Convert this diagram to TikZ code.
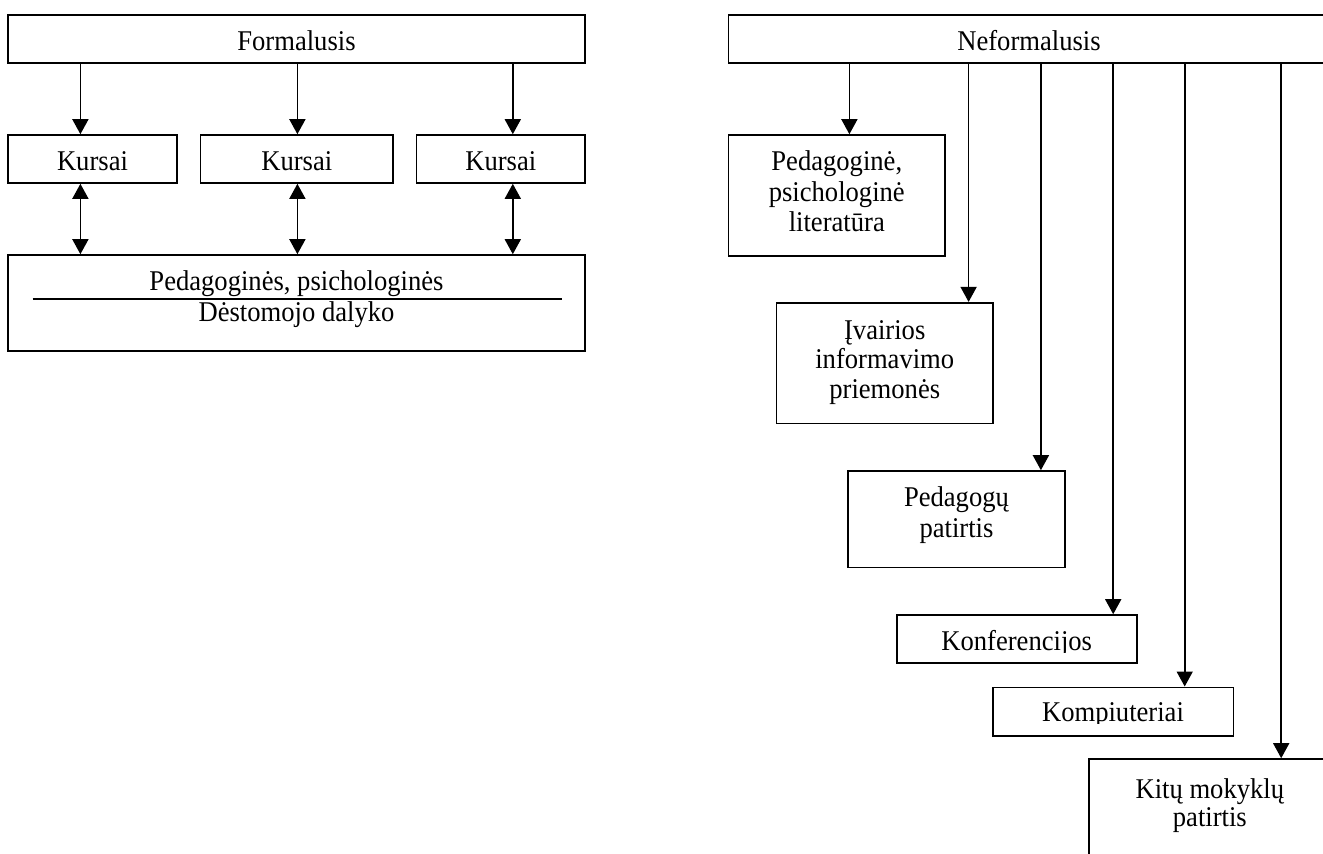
\documentclass[tikz,border=0pt]{standalone}
\usepackage{fontspec}
\setmainfont{Liberation Serif}
\usetikzlibrary{arrows.meta}
\begin{document}
\tikzset{
  box/.style={draw, line width=0.8pt, inner sep=0pt},
  txt/.style={inner sep=0pt, anchor=base, xscale=0.93, transform shape, font=\fontsize{14.3}{15}\selectfont},
  arr/.style={line width=0.8pt, -{Triangle[length=7.5pt,width=8pt]}},
  darr/.style={line width=0.8pt, {Triangle[length=7.5pt,width=8pt]}-{Triangle[length=7.5pt,width=8pt]}},
  rule/.style={line width=0.8pt}
}
\begin{tikzpicture}[x=0.5pt,y=-0.5pt]
\clip (0,0) rectangle (1323,853);
\fill[white] (0,0) rectangle (1323,853);

% ---------------- left part ----------------
\node[box, minimum width=577*0.5pt, minimum height=48*0.5pt] (f) at (296.5,39) {};
\node[txt] (ft) at (296.5,50.5) {Formalusis};

\node[box, minimum width=169*0.5pt, minimum height=48*0.5pt] (k1) at (92.5,159) {};
\node[box, minimum width=192.5*0.5pt, minimum height=48*0.5pt] (k2) at (296.75,159) {};
\node[box, minimum width=168.5*0.5pt, minimum height=48*0.5pt] (k3) at (500.75,159) {};
\node[txt] (k1t) at (92.5,170.5) {Kursai};
\node[txt] (k2t) at (296.75,170.5) {Kursai};
\node[txt] (k3t) at (500.75,170.5) {Kursai};

\node[box, minimum width=577*0.5pt, minimum height=96*0.5pt] (p) at (296.5,303) {};
\node[txt] (pt1) at (296.5,290) {Pedagoginės, psichologinės};
\node[txt] (pt2) at (296.5,321.5) {Dėstomojo dalyko};
\coordinate (la) at (32.5,299);
\coordinate (lb) at (561.5,299);
\draw[rule] (la) -- (lb);

\coordinate (a1) at (80.4,0);
\coordinate (a2) at (297.4,0);
\coordinate (a3) at (512.8,0);
\draw[arr] (a1 |- f.south) -- (a1 |- k1.north);
\draw[arr] (a2 |- f.south) -- (a2 |- k2.north);
\draw[arr] (a3 |- f.south) -- (a3 |- k3.north);
\draw[darr] (a1 |- k1.south) -- (a1 |- p.north);
\draw[darr] (a2 |- k2.south) -- (a2 |- p.north);
\draw[darr] (a3 |- k3.south) -- (a3 |- p.north);

% ---------------- right part ----------------
\node[box, minimum width=600.8*0.5pt, minimum height=48*0.5pt] (n) at (1029,39) {};
\node[txt] (nt) at (1029,50.5) {Neformalusis};

\node[box, minimum width=216.4*0.5pt, minimum height=120.7*0.5pt] (b1) at (836.8,195.35) {};
\node[txt] (b1a) at (836.8,170.7) {Pedagoginė,};
\node[txt] (b1b) at (836.8,201) {psichologinė};
\node[txt] (b1c) at (836.8,231.5) {literatūra};

\node[box, minimum width=216.9*0.5pt, minimum height=120.6*0.5pt] (b2) at (884.75,363) {};
\node[txt] (b2a) at (884.75,339.3) {Įvairios};
\node[txt] (b2b) at (884.75,368.8) {informavimo};
\node[txt] (b2c) at (884.75,398.3) {priemonės};

\node[box, minimum width=216.5*0.5pt, minimum height=96.3*0.5pt] (b3) at (956.45,519.15) {};
\node[txt] (b3a) at (956.45,506.7) {Pedagogų};
\node[txt] (b3b) at (956.45,537.3) {patirtis};

\node[box, minimum width=240*0.5pt, minimum height=47.7*0.5pt] (b4) at (1016.7,638.85) {};
\begin{scope}
  \clip (896.7,615) rectangle (1136.7,652);
  \node[txt] (b4a) at (1016.7,650) {Konferencijos};
\end{scope}

\node[box, minimum width=240.6*0.5pt, minimum height=48.4*0.5pt] (b5) at (1113,711.5) {};
\begin{scope}
  \clip (992.7,687.3) rectangle (1233.3,723.5);
  \node[txt] (b5a) at (1113,721.7) {Kompiuteriai};
\end{scope}

\node[box, minimum width=242.3*0.5pt, minimum height=121*0.5pt] (b6) at (1209.85,819.5) {};
\node[txt] (b6a) at (1209.85,798.3) {Kitų mokyklų};
\node[txt] (b6b) at (1209.85,826.7) {patirtis};

\coordinate (c1) at (849.4,0);
\coordinate (c2) at (968.6,0);
\coordinate (c3) at (1040.9,0);
\coordinate (c4) at (1113.2,0);
\coordinate (c5) at (1184.7,0);
\coordinate (c6) at (1281.2,0);
\draw[arr] (c1 |- n.south) -- (c1 |- b1.north);
\draw[arr] (c2 |- n.south) -- (c2 |- b2.north);
\draw[arr] (c3 |- n.south) -- (c3 |- b3.north);
\draw[arr] (c4 |- n.south) -- (c4 |- b4.north);
\draw[arr] (c5 |- n.south) -- (c5 |- b5.north);
\draw[arr] (c6 |- n.south) -- (c6 |- b6.north);
\end{tikzpicture}
\end{document}
